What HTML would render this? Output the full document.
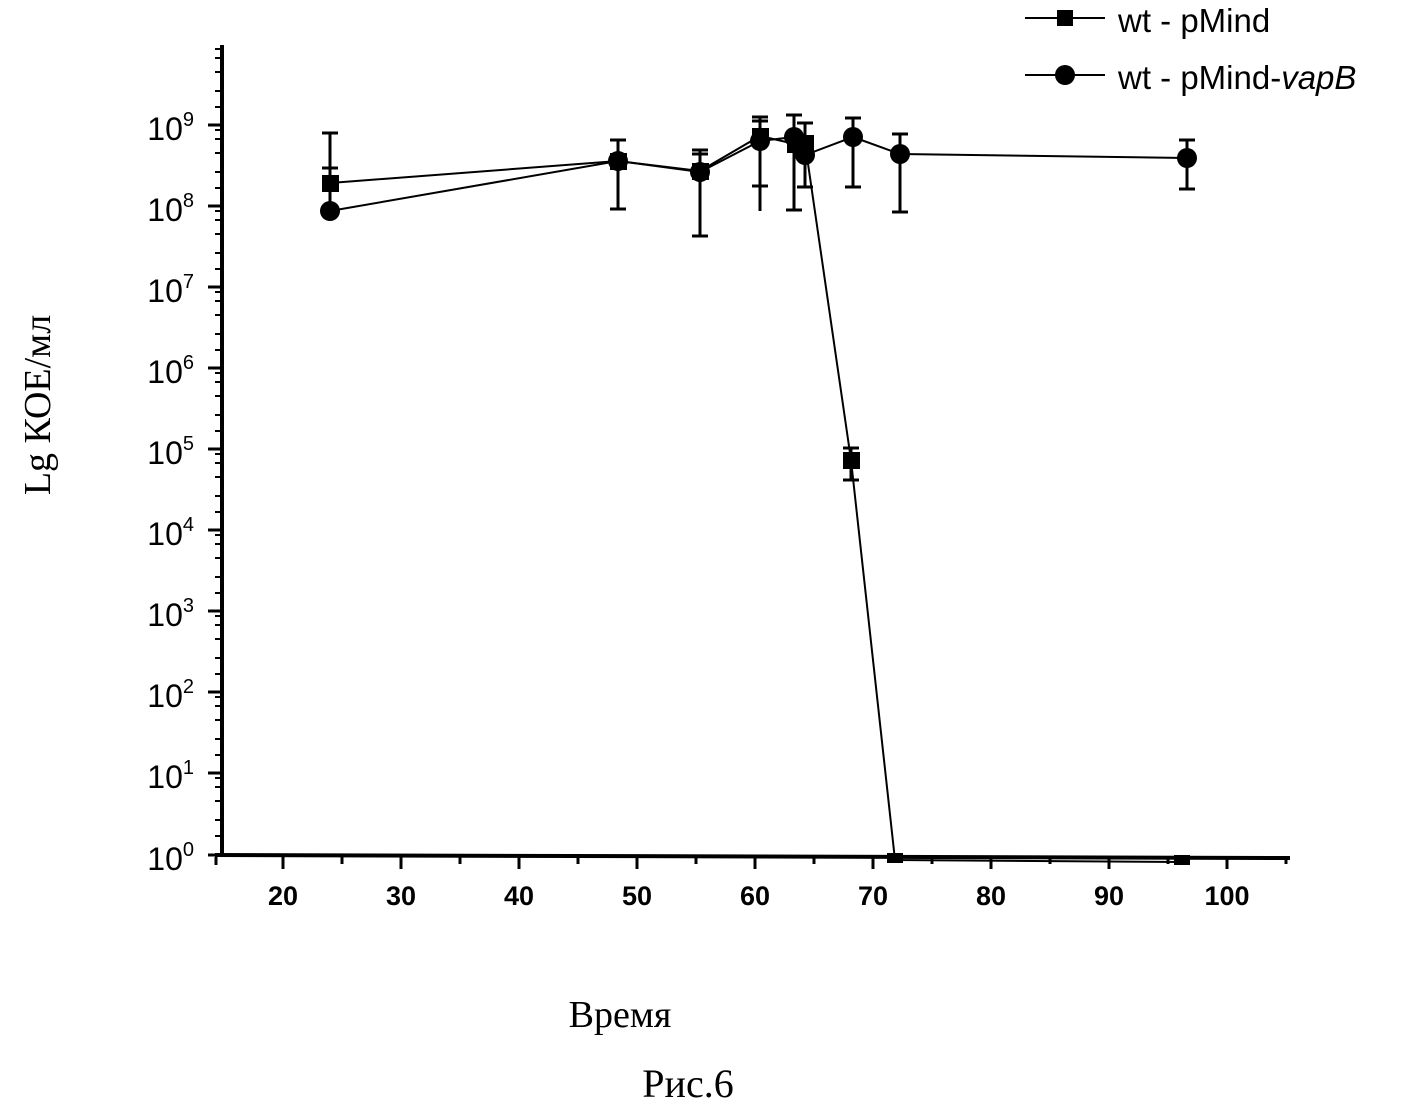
<!DOCTYPE html>
<html><head><meta charset="utf-8"><style>body{margin:0;background:#fff}</style></head><body>
<svg width="1403" height="1105" xmlns="http://www.w3.org/2000/svg" font-family="Liberation Sans, sans-serif">
<g stroke="#000" fill="none">
<line x1="222" y1="45" x2="222" y2="857" stroke-width="4"/>
<line x1="215" y1="855" x2="1290" y2="858" stroke-width="4"/>
<g stroke-width="3">
<path d="M208 855h14M208 773h14M208 692h14M208 611h14M208 530h14M208 449h14M208 368h14M208 287h14M208 206h14M208 125h14"/>
<path d="M283 857v12M401 857v12M519 857v12M637 857v12M755 857v12M873 857v12M991 857v12M1109 857v12M1227 857v12"/>
<path d="M216 857v8M342 857v7M460 857v7M578 857v7M696 857v7M814 857v7M932 857v7M1050 857v7M1168 857v7M1286 857v7"/>
</g>
<g stroke-width="2">
<path d="M215 801h7M215 787h7M215 778h7M215 820h7M215 836h7"/>
<path d="M215 720h7M215 706h7M215 697h7M215 739h7M215 755h7"/>
<path d="M215 639h7M215 625h7M215 616h7M215 658h7M215 674h7"/>
<path d="M215 558h7M215 544h7M215 535h7M215 577h7M215 593h7"/>
<path d="M215 477h7M215 463h7M215 454h7M215 496h7M215 512h7"/>
<path d="M215 396h7M215 382h7M215 373h7M215 415h7M215 431h7"/>
<path d="M215 315h7M215 301h7M215 292h7M215 334h7M215 350h7"/>
<path d="M215 234h7M215 220h7M215 211h7M215 253h7M215 269h7"/>
<path d="M215 153h7M215 139h7M215 130h7M215 172h7M215 188h7"/>
<path d="M215 72h7M215 58h7M215 49h7M215 91h7M215 107h7"/>
</g>
<g stroke-width="3">
<path d="M330 133v80M322 133h16M322 168h16"/>
<path d="M618 140v69M610 140h16M610 209h16"/>
<path d="M700 150v86M692 150h16M692 236h16M692 154h16"/>
<path d="M760 117v94M752 117h16M752 121h16M752 186h16"/>
<path d="M794 115v95M786 115h16M786 210h16"/>
<path d="M805 123v64M797 123h16M797 187h16"/>
<path d="M853 118v69M845 118h16M845 187h16"/>
<path d="M900 134v78M892 134h16M892 212h16"/>
<path d="M1187 140v49M1179 140h16M1179 189h16"/>
<path d="M851 448v32M843 448h16M843 480h16"/>
</g>
<polyline stroke-width="2" points="330,183 618,161 700,171 760,136 795,144 805,143 851,460 895,860 1182,862"/>
<polyline stroke-width="2" points="330,211 618,161 700,172 760,141 794,137 805,155 853,137 900,154 1187,158"/>
<line x1="1025" y1="18" x2="1105" y2="18" stroke-width="2"/>
<line x1="1025" y1="75" x2="1105" y2="75" stroke-width="2"/>
</g>
<g fill="#000">
<rect x="322" y="175" width="17" height="17"/><rect x="610" y="153" width="17" height="17"/><rect x="692" y="163" width="17" height="17"/><rect x="752" y="128" width="17" height="17"/><rect x="787" y="136" width="17" height="17"/><rect x="797" y="135" width="17" height="17"/><rect x="843" y="452" width="17" height="17"/><rect x="887" y="853" width="16" height="10"/><rect x="1174" y="855" width="16" height="10"/>
<circle cx="330" cy="211" r="10"/><circle cx="618" cy="161" r="10"/><circle cx="700" cy="172" r="10"/><circle cx="760" cy="141" r="10"/><circle cx="794" cy="137" r="10"/><circle cx="805" cy="155" r="10"/><circle cx="853" cy="137" r="10"/><circle cx="900" cy="154" r="10"/><circle cx="1187" cy="158" r="10"/>
<rect x="1057" y="10" width="16" height="16"/><circle cx="1065" cy="75" r="10"/>
<g font-size="27" font-weight="bold" text-anchor="middle">
<text x="283" y="905">20</text><text x="401" y="905">30</text><text x="519" y="905">40</text><text x="637" y="905">50</text><text x="755" y="905">60</text><text x="873" y="905">70</text><text x="991" y="905">80</text><text x="1109" y="905">90</text><text x="1227" y="905">100</text>
</g>
<g font-size="32" text-anchor="end">
<text x="194" y="870">10<tspan font-size="20" dy="-14">0</tspan></text>
<text x="194" y="788">10<tspan font-size="20" dy="-14">1</tspan></text>
<text x="194" y="707">10<tspan font-size="20" dy="-14">2</tspan></text>
<text x="194" y="626">10<tspan font-size="20" dy="-14">3</tspan></text>
<text x="194" y="545">10<tspan font-size="20" dy="-14">4</tspan></text>
<text x="194" y="464">10<tspan font-size="20" dy="-14">5</tspan></text>
<text x="194" y="383">10<tspan font-size="20" dy="-14">6</tspan></text>
<text x="194" y="302">10<tspan font-size="20" dy="-14">7</tspan></text>
<text x="194" y="221">10<tspan font-size="20" dy="-14">8</tspan></text>
<text x="194" y="140">10<tspan font-size="20" dy="-14">9</tspan></text>
</g>
<text x="1118" y="32" font-size="33">wt - pMind</text>
<text x="1118" y="89" font-size="33">wt - pMind-<tspan font-style="italic">vapB</tspan></text>
<text x="620" y="1027" font-size="38" font-family="Liberation Serif, serif" text-anchor="middle">Время</text>
<text x="688" y="1097" font-size="40" font-family="Liberation Serif, serif" text-anchor="middle">Рис.6</text>
<text transform="translate(50,405) rotate(-90)" font-size="38" font-family="Liberation Serif, serif" text-anchor="middle">Lg КОЕ/мл</text>
</g>
</svg>
</body></html>
